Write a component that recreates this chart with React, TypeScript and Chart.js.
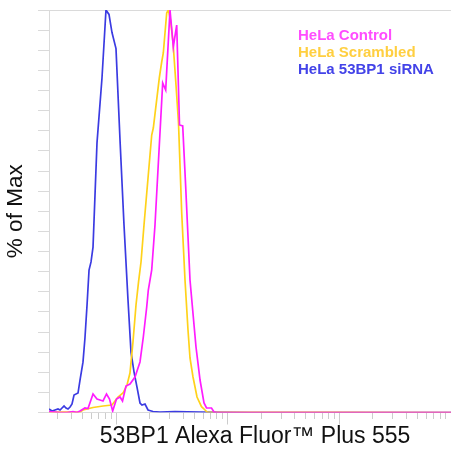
import React, { useEffect, useRef } from "react";
import { Chart, registerables } from "chart.js";

Chart.register(...registerables);

// ---- Data ----
const SERIES_LABELS = ["HeLa Control", "HeLa Scrambled", "HeLa 53BP1 siRNA"];
const LINE_COLORS = ["#ff1cff", "#ffd21a", "#3b3be2"];
const LEGEND_COLORS = ["#ff4dff", "#ffcf40", "#4343e8"];

const CONTROL_X = [25, 28.3, 31.4, 36.2, 41.0, 44.6, 47.4, 52.5, 55.9, 62.0, 67.3, 71.6, 76.2, 81.9, 87.1, 93.0, 100.6, 108.2, 113.9, 122.4, 132.9, 147.4, 163.4, 175.0, 187.7, 194.0, 208.1, 222.7, 261.0, 277.7, 303.5, 324.9, 348.5, 369.3, 394.5, 419.6, 458.5, 519.0, 564, 612.2, 644.6, 714.5, 752.3, 800.5, 100000];
const CONTROL_Y = [0.25, 0.12, 0, 0, 0.25, 0, 0.37, 1.12, 0.99, 4.6, 3.35, 3.11, 2.86, 4.6, 3.35, 0.37, 3.35, 3.85, 2.86, 6.58, 7.08, 8.82, 12.55, 18.76, 26.21, 30.43, 35.4, 46.58, 81.86, 80.12, 100, 90.81, 96.27, 71.43, 71.18, 56.02, 32.92, 16.27, 8.07, 2.36, 1.12, 1.12, 0.12, 0, 0];

const SCRAMBLED_X = [25, 47.4, 50.4, 62.0, 76.2, 91.7, 103.8, 115.1, 125.0, 132.9, 141.4, 150.5, 158.5, 166.9, 177.5, 208.1, 215.1, 243.4, 255.7, 264.3, 283.5, 293.1, 306.7, 322.9, 343.5, 361.7, 386.4, 413.6, 440.0, 458.5, 487.9, 529.9, 581.4, 625.0, 651.3, 100000];
const SCRAMBLED_Y = [0.12, 0.12, 0.62, 1.24, 1.61, 1.86, 3.85, 4.84, 6.83, 9.81, 17.52, 26.71, 32.4, 37.39, 46.58, 68.94, 70.68, 83.11, 87.08, 89.32, 99.25, 100, 97.52, 92.05, 81.37, 71.93, 49.57, 32.92, 20.5, 13.54, 8.82, 3.85, 1.44, 0.62, 0.12, 0];

const SIRNA_X = [25, 26.6, 28.3, 30.1, 31.4, 32.7, 34.1, 35.5, 37.0, 38.6, 40.2, 41.9, 45.5, 47.4, 50.4, 52.5, 54.8, 57.1, 59.5, 62.0, 67.3, 74.6, 81.0, 86.2, 91.7, 99.6, 108.2, 117.5, 127.6, 135.7, 144.4, 153.6, 163.4, 170.3, 181.2, 192.8, 213.7, 247, 336, 564, 1581, 100000];
const SIRNA_Y = [0.87, 0.37, 0.62, 0.87, 0.62, 1.12, 1.61, 1.12, 0.87, 1.37, 2.11, 4.35, 4.84, 8.07, 12.5, 18.5, 26.7, 35.4, 37.4, 41.1, 67.0, 83.1, 100, 98.9, 94.4, 90.4, 67.7, 46.6, 27.95, 15.0, 10.1, 6.3, 2.36, 1.86, 2.11, 0.62, 0.25, 0.12, 0.25, 0.12, 0, 0];

const X_MIN = 25;
const X_MAX = 100000;
const X_TICKS = [30, 40, 50, 60, 70, 80, 90, 100, 200, 300, 400, 500, 600, 700, 800, 900, 1000, 2000, 3000, 4000, 5000, 6000, 7000, 8000, 9000, 10000, 20000, 30000, 40000, 50000, 60000, 70000, 80000, 90000];
const Y_TICKS = [0, 5, 10, 15, 20, 25, 30, 35, 40, 45, 50, 55, 60, 65, 70, 75, 80, 85, 90, 95, 100];

const X_TITLE = "53BP1 Alexa Fluor™ Plus 555";
const Y_TITLE = "% of Max";

const FONT = "'Liberation Sans', Arial, Helvetica, sans-serif";
const AXIS_GRAY = "#dadada";

const isDecade = (v: number) => {
  const l = Math.log10(v);
  return Math.abs(l - Math.round(l)) < 1e-9;
};

const textLegend = {
  id: "textLegend",
  afterDraw(chart: any) {
    const { ctx, chartArea } = chart;
    ctx.save();
    // legend
    ctx.font = `bold 15px ${FONT}`;
    ctx.textBaseline = "alphabetic";
    ctx.textAlign = "left";
    SERIES_LABELS.forEach((label, i) => {
      ctx.fillStyle = LEGEND_COLORS[i];
      ctx.fillText(label, chartArea.right - 153, chartArea.top + 29.5 + i * 17.4);
    });
    // x-axis title
    ctx.font = `23px ${FONT}`;
    ctx.fillStyle = "#111111";
    ctx.textAlign = "center";
    ctx.textBaseline = "alphabetic";
    ctx.fillText(X_TITLE, (chartArea.left + chartArea.right) / 2 + 5, chartArea.bottom + 30);
    ctx.restore();
  },
};

export default function App() {
  const canvasRef = useRef<HTMLCanvasElement | null>(null);

  useEffect(() => {
    if (!canvasRef.current) return;
    Chart.defaults.font.family = FONT;
    const toPoints = (xs: number[], ys: number[]) => xs.map((x, i) => ({ x, y: ys[i] }));
    const seriesData = [
      toPoints(CONTROL_X, CONTROL_Y),
      toPoints(SCRAMBLED_X, SCRAMBLED_Y),
      toPoints(SIRNA_X, SIRNA_Y),
    ];
    const chart = new Chart(canvasRef.current, {
      type: "line",
      data: {
        datasets: SERIES_LABELS.map((label, i) => ({
          label,
          data: seriesData[i],
          borderColor: LINE_COLORS[i],
          backgroundColor: LINE_COLORS[i],
          borderWidth: 1.7,
          pointRadius: 0,
          tension: 0,
          fill: false,
        })),
      },
      options: {
        responsive: false,
        animation: false,
        layout: { padding: { top: 10, right: 0, bottom: 24.5, left: 0 } },
        plugins: { legend: { display: false }, tooltip: { enabled: false } },
        scales: {
          x: {
            type: "logarithmic",
            position: "bottom",
            min: X_MIN,
            max: X_MAX,
            afterBuildTicks: (s: any) => {
              s.ticks = X_TICKS.map((v) => ({ value: v, major: isDecade(v) }));
            },
            ticks: { display: false },
            grid: {
              drawOnChartArea: false,
              drawTicks: true,
              tickLength: 12,
              tickColor: "#cccccc",
              tickWidth: 1,
              tickBorderDash: (c: any) => (c.tick && isDecade(c.tick.value) ? [] : [6, 30]),
            },
            border: { display: true, color: AXIS_GRAY, width: 1 },
            title: { display: false },
          },
          xTop: {
            type: "linear",
            position: "top",
            display: true,
            ticks: { display: false },
            grid: { display: false, drawTicks: false },
            border: { display: true, color: AXIS_GRAY, width: 1 },
          },
          y: {
            type: "linear",
            min: 0,
            max: 100,
            afterBuildTicks: (s: any) => {
              s.ticks = Y_TICKS.map((v) => ({ value: v }));
            },
            ticks: { display: false },
            grid: { drawOnChartArea: false, drawTicks: true, tickLength: 11, tickColor: AXIS_GRAY },
            border: { display: true, color: AXIS_GRAY, width: 1 },
            title: {
              display: true,
              text: Y_TITLE,
              color: "#111111",
              font: { family: FONT, size: 22.5, lineHeight: 1 },
              padding: { top: 5, bottom: 10.5 },
            },
          },
        },
      },
      plugins: [textLegend],
    });
    return () => chart.destroy();
  }, []);

  return (
    <div style={{ position: "fixed", left: 0, top: 0, width: 451, height: 449, background: "#ffffff" }}>
      <canvas ref={canvasRef} width={451} height={449} />
    </div>
  );
}
